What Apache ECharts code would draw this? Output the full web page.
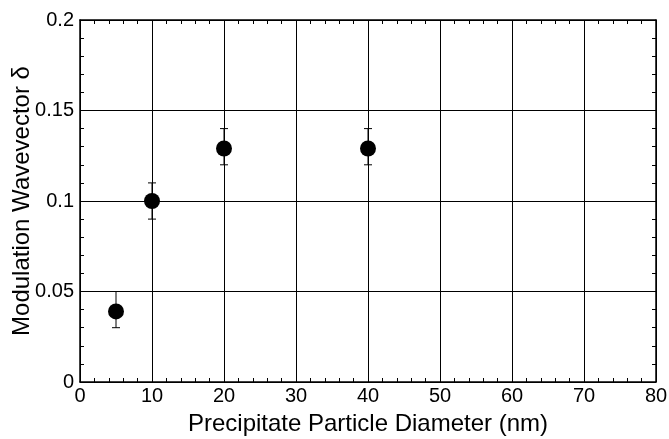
<!DOCTYPE html>
<html>
<head>
<meta charset="utf-8">
<script src="https://cdn.jsdelivr.net/npm/echarts@6/dist/echarts.min.js"></script>
<style>
html, body { margin: 0; padding: 0; background: #fff; }
#main { width: 669px; height: 439px; }
</style>
</head>
<body>
<div id="main"></div>
<script>
// particle diameter (nm) and modulation wavevector
var diameters = [5, 10, 20, 40];
var deltas = [0.039, 0.1, 0.129, 0.129];
var errLow = [0.03, 0.09, 0.12, 0.12];
var errHigh = [0.05, 0.11, 0.14, 0.14];

var xTicks = [0, 10, 20, 30, 40, 50, 60, 70, 80];
var yTicks = [0, 0.05, 0.1, 0.15, 0.2];

var font = 'Liberation Sans, Arial, Helvetica, sans-serif';

var points = [];
var bars = [];
for (var i = 0; i < diameters.length; i++) {
    points.push([diameters[i], deltas[i]]);
    bars.push([diameters[i], errLow[i], errHigh[i]]);
}

function axisX(pos, show) {
    return {
        type: 'value',
        position: pos,
        min: xTicks[0],
        max: xTicks[xTicks.length - 1],
        interval: 10,
        name: show ? 'Precipitate Particle Diameter (nm)' : '',
        nameLocation: 'middle',
        nameGap: 30,
        nameMoveOverlap: false,
        nameTextStyle: {fontFamily: font, fontSize: 24, color: '#000'},
        axisLine: {show: true, onZero: false, lineStyle: {color: '#000', width: 1.5}},
        axisTick: {show: true, inside: true, length: 8, lineStyle: {color: '#000'}},
        minorTick: {show: true, splitNumber: 5, length: 4, lineStyle: {color: '#000'}},
        axisLabel: {show: show, fontFamily: font, fontSize: 20, color: '#000', margin: 4},
        splitLine: {show: show, lineStyle: {color: '#000', width: 1}}
    };
}

function axisY(pos, show) {
    return {
        type: 'value',
        position: pos,
        min: yTicks[0],
        max: yTicks[yTicks.length - 1],
        interval: 0.05,
        name: show ? 'Modulation Wavevector \u03b4' : '',
        nameLocation: 'middle',
        nameGap: 46,
        nameMoveOverlap: false,
        nameTextStyle: {fontFamily: font, fontSize: 24, color: '#000'},
        axisLine: {show: true, onZero: false, lineStyle: {color: '#000', width: 1.5}},
        axisTick: {show: true, inside: true, length: 8, lineStyle: {color: '#000'}},
        minorTick: {show: true, splitNumber: 5, length: 4, lineStyle: {color: '#000'}},
        axisLabel: {show: show, fontFamily: font, fontSize: 20, color: '#000', margin: 6},
        splitLine: {show: show, lineStyle: {color: '#000', width: 1}}
    };
}

var myChart = echarts.init(document.getElementById('main'), null, {renderer: 'canvas'});
var option = {
    animation: false,
    backgroundColor: '#fff',
    grid: {left: 80, right: 13, top: 20, bottom: 57, containLabel: false, outerBoundsMode: 'none'},
    xAxis: [axisX('bottom', true), axisX('top', false)],
    yAxis: [axisY('left', true), axisY('right', false)],
    series: [
        {
            type: 'custom',
            data: bars,
            z: 3,
            renderItem: function (params, api) {
                var x = api.value(0);
                var lo = api.coord([x, api.value(1)]);
                var hi = api.coord([x, api.value(2)]);
                var w = 4;
                var style = {stroke: '#000', lineWidth: 1};
                return {
                    type: 'group',
                    children: [
                        {type: 'line', shape: {x1: lo[0], y1: lo[1], x2: hi[0], y2: hi[1]}, style: style},
                        {type: 'line', shape: {x1: lo[0] - w, y1: lo[1], x2: lo[0] + w, y2: lo[1]}, style: style},
                        {type: 'line', shape: {x1: hi[0] - w, y1: hi[1], x2: hi[0] + w, y2: hi[1]}, style: style}
                    ]
                };
            }
        },
        {
            type: 'scatter',
            data: points,
            symbol: 'circle',
            symbolSize: 16,
            z: 4,
            itemStyle: {color: '#000', opacity: 1}
        }
    ]
};
myChart.setOption(option);
</script>
</body>
</html>
